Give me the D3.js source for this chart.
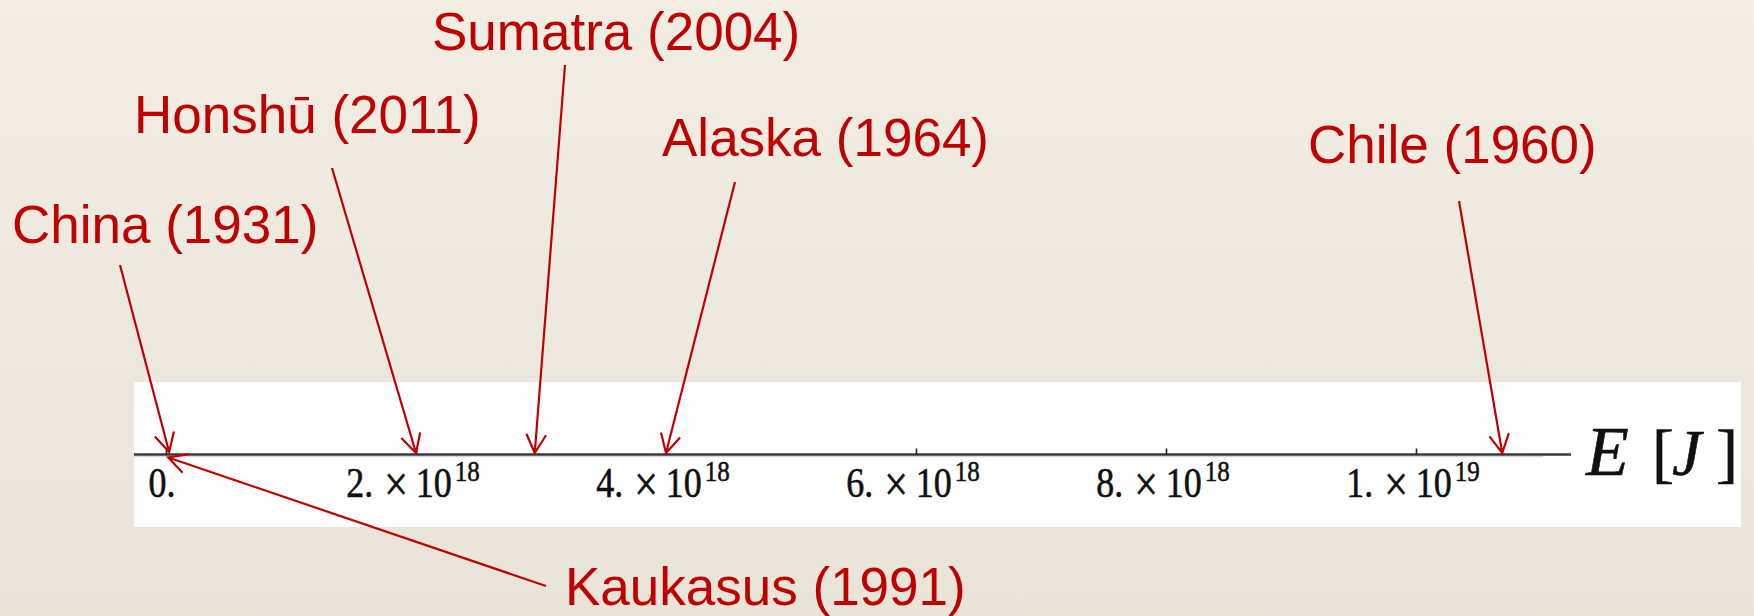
<!DOCTYPE html>
<html>
<head>
<meta charset="utf-8">
<script src="https://cdn.jsdelivr.net/npm/d3@7"></script>
<style>
html,body{margin:0;padding:0;}
svg{display:block;}
</style>
</head>
<body>
<script>
// ---- data ----
const events   = ["China (1931)", "Honshū (2011)", "Sumatra (2004)", "Alaska (1964)", "Chile (1960)", "Kaukasus (1991)"];
const energies = [0.025e18, 2.0e18, 2.95e18, 4.0e18, 1.069e19, 0.018e18]; // E [J]
const tickValues = [0, 2e18, 4e18, 6e18, 8e18, 1e19];
const tickMantissa = ["0.", "2.", "4.", "6.", "8.", "1."];
const tickExponent = [null, "18", "18", "18", "18", "19"];
const axisTitle = ["E", "[", "J", "]"];

// ---- layout (label placement, arrow tails) ----
const labelLayout = [
  {tx: 12,   ty: 243, ax: 120,  ay: 265, tipDy: -2.5},
  {tx: 134,  ty: 133, ax: 332,  ay: 168, tipDy: -1.5},
  {tx: 432,  ty: 50,  ax: 565,  ay: 65,  tipDy: -1.5},
  {tx: 662,  ty: 156, ax: 735,  ay: 182, tipDy: -1.5},
  {tx: 1308, ty: 163, ax: 1459, ay: 201, tipDy: -1.5},
  {tx: 565,  ty: 605, ax: 546,  ay: 586, tipDy: 3}
];

const W = 1754, H = 616;
const red = "#C00000";
const axisY = 454.5;

const svg = d3.select("body").append("svg").attr("width", W).attr("height", H);

const defs = svg.append("defs");
const grad = defs.append("linearGradient").attr("id","bg").attr("x1",0).attr("y1",0).attr("x2",0).attr("y2",1);
grad.append("stop").attr("offset","0%").attr("stop-color","#F2EEE4");
grad.append("stop").attr("offset","100%").attr("stop-color","#E8E4D8");
svg.append("rect").attr("width",W).attr("height",H).attr("fill","url(#bg)");

// white plot panel
svg.append("rect").attr("x",134).attr("y",382).attr("width",1607).attr("height",145).attr("fill","#FFFFFF");

const x = d3.scaleLinear().domain([0, 1e19]).range([166, 1416]);

// faint shadow + axis line
svg.append("line").attr("x1",134).attr("x2",1543).attr("y1",axisY+2.2).attr("y2",axisY+2.2)
  .attr("stroke","#D6D8E8").attr("stroke-width",1.2);
svg.append("line").attr("x1",134).attr("x2",1571).attr("y1",axisY).attr("y2",axisY)
  .attr("stroke","#383838").attr("stroke-width",2.6);

// ticks via d3 axis
const axisG = svg.append("g").attr("transform",`translate(0,${axisY})`)
  .call(d3.axisBottom(x).tickValues(tickValues).tickSize(-6).tickFormat(() => ""));
axisG.select(".domain").remove();
axisG.selectAll(".tick line").attr("stroke","#222").attr("stroke-width",1.6);

// tick labels
tickValues.forEach((v, i) => {
  const g = svg.append("g").attr("transform", `translate(${x(v) - (i === 0 ? 4 : 3)},497) scale(1,1.2)`);
  const t = g.append("text").attr("text-anchor","middle")
    .attr("font-family","'Liberation Serif','Times New Roman',serif").attr("font-size",36)
    .attr("fill","#111").attr("stroke","#111").attr("stroke-width",0.5);
  t.append("tspan").text(tickMantissa[i]);
  if (tickExponent[i]) {
    t.append("tspan").attr("dx",11).attr("dy",3).attr("font-size",42).text("×");
    t.append("tspan").attr("dx",8).attr("dy",-3).text("10");
    t.append("tspan").attr("dx",3).attr("dy",-13).attr("font-size",25).text(tickExponent[i]);
  }
});

// axis title E [J]
const titleX = [1586, 1652, 1672, 1716];
const titleStyle = ["italic","normal","italic","normal"];
axisTitle.forEach((s, i) => {
  svg.append("text").attr("x", titleX[i]).attr("y", 475)
    .attr("font-family","'Liberation Serif','Times New Roman',serif")
    .attr("font-style", titleStyle[i]).attr("font-size", i === 0 ? 70 : 66).attr("fill","#111")
    .attr("stroke","#111").attr("stroke-width",0.6).text(s);
});

// labels + arrows
events.forEach((name, i) => {
  const L = labelLayout[i];
  svg.append("text").attr("x", L.tx).attr("y", L.ty)
    .attr("font-family","'Liberation Sans',Arial,sans-serif").attr("font-size",53)
    .attr("fill", red).text(name);
  const tipX = x(energies[i]), tipY = axisY + L.tipDy;
  const dx = L.ax - tipX, dy = L.ay - tipY, len = Math.hypot(dx, dy);
  const ux = dx/len, uy = dy/len;
  const ang = 28 * Math.PI/180, hl = 21;
  const rot = (a) => [tipX + hl*(ux*Math.cos(a) - uy*Math.sin(a)), tipY + hl*(ux*Math.sin(a) + uy*Math.cos(a))];
  const w1 = rot(ang), w2 = rot(-ang);
  const path = d3.path();
  path.moveTo(L.ax, L.ay); path.lineTo(tipX, tipY);
  path.moveTo(w1[0], w1[1]); path.lineTo(tipX, tipY); path.lineTo(w2[0], w2[1]);
  svg.append("path").attr("d", path.toString()).attr("fill","none")
    .attr("stroke", red).attr("stroke-width", 2.2).attr("stroke-linejoin","miter");
});
</script>
</body>
</html>
